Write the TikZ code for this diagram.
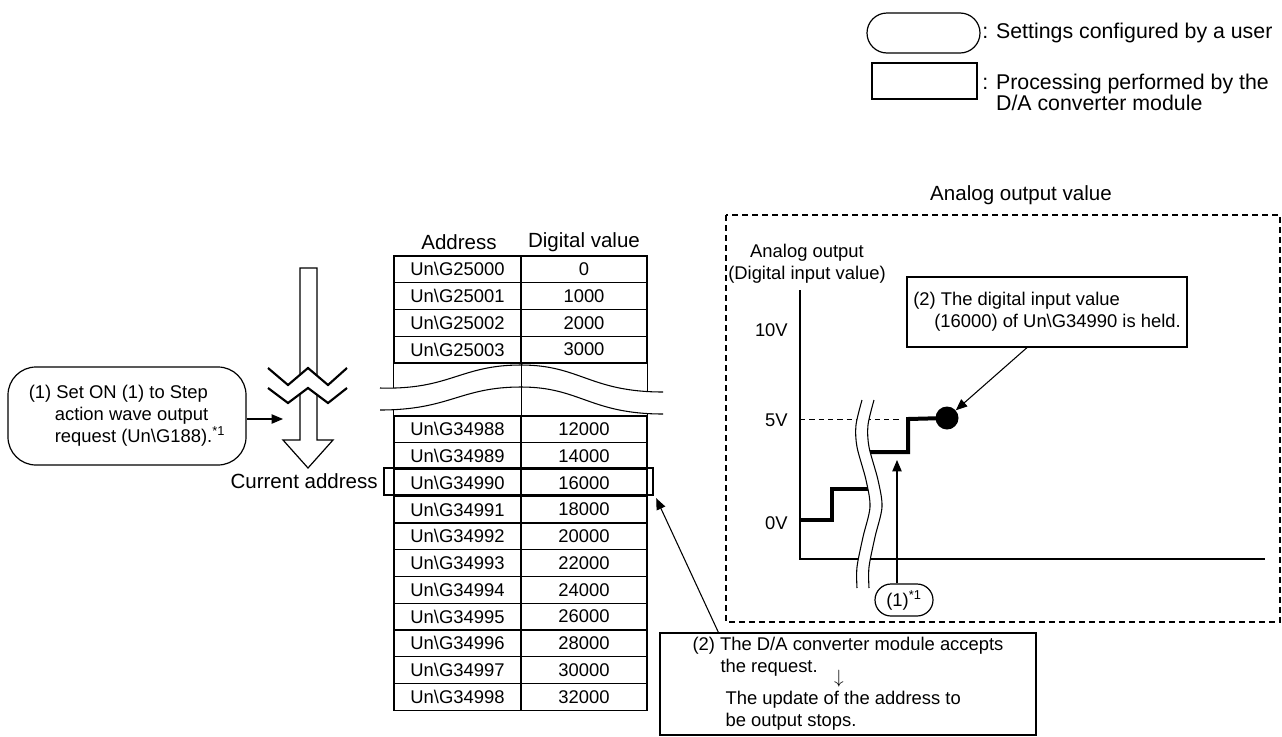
\documentclass[tikz,border=0pt]{standalone}
\usepackage{fontspec}
\setmainfont{Liberation Sans}
\usetikzlibrary{arrows.meta}

\tikzset{
  txt/.style={font=\fontsize{13.8}{16.5}\selectfont, inner sep=0pt},
  head/.style={font=\fontsize{15.4}{18}\selectfont, inner sep=0pt},
  key/.style={font=\fontsize{16}{16}\selectfont, inner sep=0pt},
  cell/.style={draw, line width=0.8pt, minimum height=20.06pt, inner sep=0pt, font=\fontsize{13.8}{16.5}\selectfont},
  addr/.style={cell, minimum width=95.25pt},
  val/.style={cell, minimum width=94.5pt},
  usr/.style={draw, line width=0.9pt},
  proc/.style={draw, line width=0.9pt},
  arr/.style={line width=0.8pt, -{Triangle[length=8.5pt,width=7pt]}},
  thickline/.style={line width=3pt},
  brk/.style={line width=0.8pt}
}

\begin{document}
\begin{tikzpicture}[x=0.75pt, y=-0.75pt]
\useasboundingbox (0,0) rectangle (1282,736);

% Legend
\node[usr, rounded corners=15pt, minimum width=84.75pt, minimum height=30pt] (keyusr) at (923.5,33) {};
\node[proc, minimum width=78.75pt, minimum height=27pt] (keyproc) at (924.5,81) {};
\node[key, anchor=west] (keyusrtxt) at (982,33) {: Settings configured by a user};
\node[key, anchor=west, align=left] (keyproctxt) at (982,92.5) {: Processing performed by the\\\phantom{: }D/A converter module};

% Table
\node[head] (haddr) at (459,242) {Address};
\node[head] (hval) at (584,242) {Digital value};
\foreach \n/\v [count=\i from 0] in {25000/0,25001/1000,25002/2000,25003/3000} {
  \node[addr] (a\n) at (457.5, 269.375+\i*26.75) {Un\textbackslash G\n};
  \node[val] (v\n) at (584, 269.375+\i*26.75) {\v};
}
\foreach \j in {0,...,10} {
  \pgfmathtruncatemacro\sfx{88+\j}
  \pgfmathtruncatemacro\kv{12+2*\j}
  \node[addr] (b\sfx) at (457.5, 429.375+\j*26.75) {Un\textbackslash G349\sfx};
  \node[val] (w\sfx) at (584, 429.375+\j*26.75) {\kv000};
}
\draw[brk] (a25003.south west) -- (b88.north west);
\draw[brk] (v25003.south east) -- (w88.north east);
\fill[white] (380,388) .. controls (450,390) and (460,365) .. (521,365) .. controls (580,365) and (590,392) .. (663,392)
  -- (663,414) .. controls (590,414) and (580,387) .. (521,387) .. controls (460,387) and (450,410) .. (380,410) -- cycle;
\draw[brk] (a25003.south east) -- (b88.north east);
\draw[brk] (380,388) .. controls (450,390) and (460,365) .. (521,365) .. controls (580,365) and (590,392) .. (663,392);
\draw[brk] (380,410) .. controls (450,410) and (460,387) .. (521,387) .. controls (580,387) and (590,414) .. (663,414);

\node[draw, line width=1.8pt, minimum width=201.75pt, minimum height=20.25pt] (cur) at (518.5,481.5) {};
\node[head, anchor=east] (curtxt) at (378,481) {Current address};

% Address pointer arrow
\draw[line width=0.9pt, fill=white] (300,268) -- (300,440) -- (283,440) -- (308,468) -- (333,440) -- (317,440) -- (317,268) -- cycle;
\fill[white] (268,368) -- (288,385) -- (308,368) -- (328,385) -- (347,368) -- (347,388) -- (328,403) -- (308,388) -- (288,403) -- (268,388) -- cycle;
\draw[line width=1.6pt] (268,368) -- (288,385) -- (308,368) -- (328,385) -- (347,368);
\draw[line width=1.6pt] (268,388) -- (288,403) -- (308,388) -- (328,403) -- (347,388);

\node[usr, rounded corners=21pt, minimum width=178.5pt, minimum height=73.5pt, align=left, txt] (setbox) at (127,416)
  {(1) Set ON (1) to Step\\\hspace*{19.5pt}action wave output\\\hspace*{19.5pt}request (Un\textbackslash G188).\textsuperscript{*1}};
\coordinate (shaft) at (283,419);
\draw[arr] (setbox.east |- shaft) -- (shaft);

% Analog output value
\node[head] (title) at (1021,195) {Analog output value};
\draw[line width=1.9pt, dash pattern=on 4.5pt off 3pt] (726,215) rectangle (1280,622);
\node[txt, align=center] (ylab) at (807,264) {Analog output\\(Digital input value)};
\node[txt, anchor=east] (v10) at (788,330) {10V};
\node[txt, anchor=east] (v5) at (788,420) {5V};
\node[txt, anchor=east] (v0) at (788,523) {0V};
\draw[line width=0.9pt] (800,290) -- (800,559) -- (1265,559);
\draw[line width=0.7pt, dash pattern=on 4pt off 3pt] (800,419) -- (902,419);
\node[circle, fill, inner sep=0pt, minimum size=17.25pt] (held) at (947,418) {};
\draw[thickline] (800,520) -- (832,520) -- (832,489) -- (872,489);
\draw[thickline] (862,452) -- (908,452) -- (908,419) -- (held.center);
\fill[white] plot[smooth] coordinates {(862,400) (856,425) (857,447) (866,480) (870,507) (863,537) (857,567) (857,588)}
  -- plot[smooth] coordinates {(869,588) (869,567) (875,537) (882,507) (878,480) (869,447) (868,425) (874,400)} -- cycle;
\draw[brk] plot[smooth] coordinates {(862,400) (856,425) (857,447) (866,480) (870,507) (863,537) (857,567) (857,588)};
\draw[brk] plot[smooth] coordinates {(874,400) (868,425) (869,447) (878,480) (882,507) (875,537) (869,567) (869,588)};

\node[proc, minimum width=210pt, minimum height=52.5pt, align=left, txt] (heldbox) at (1047,312)
  {(2) The digital input value\\\hspace*{15.75pt}(16000) of Un\textbackslash G34990 is held.};
\draw[arr] ([xshift=-15pt]heldbox.south) -- (held);

\node[usr, rounded corners=12pt, minimum width=43.5pt, minimum height=24pt, txt] (bub) at (904,600) {(1)\textsuperscript{*1}};
\coordinate (stepup) at (897,460);
\draw[arr] (stepup |- bub.north) -- (stepup);

% D/A converter processing
\node[proc, minimum width=282pt, minimum height=76.5pt, align=left, txt] (accept) at (848,684)
  {(2) The D/A converter module accepts\\\hspace*{21pt}the request.\\[7.5pt]\hspace*{24.75pt}The update of the address to\\\hspace*{24.75pt}be output stops.};
\node[txt] (down) at (839,679) {$\downarrow$};
\draw[arr] ([xshift=44.25pt]accept.north west) -- ([shift={(1.5pt,-1.5pt)}]cur.south east);

\end{tikzpicture}
\end{document}
